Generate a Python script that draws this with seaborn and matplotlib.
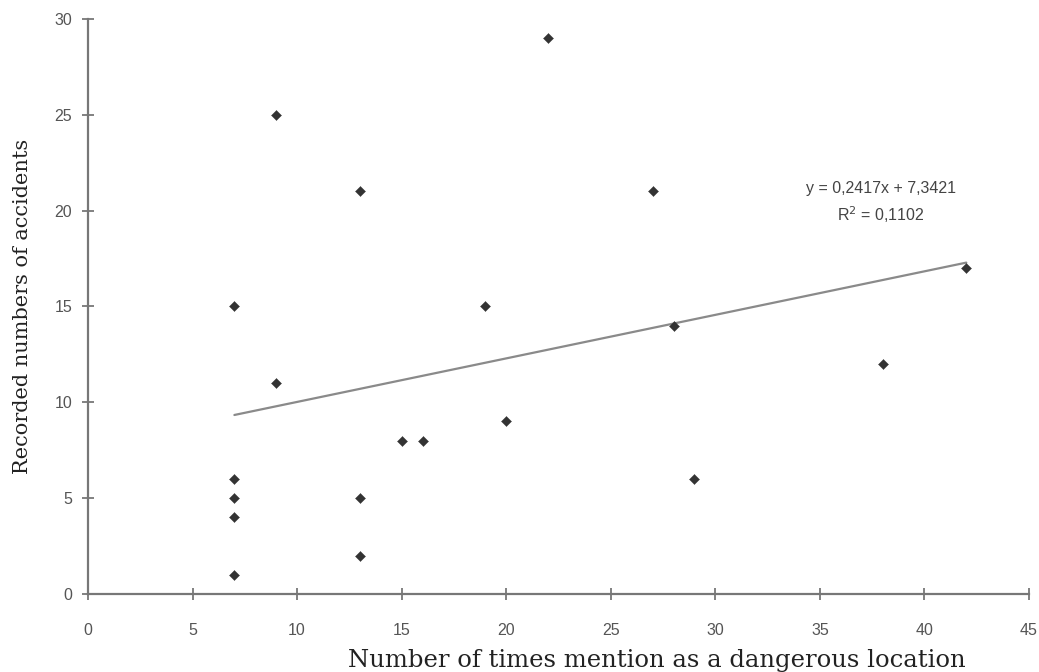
import matplotlib
matplotlib.use("Agg")
import matplotlib.pyplot as plt
import seaborn as sns
import pandas as pd

mentions = [7, 7, 7, 7, 7, 9, 9, 13, 13, 13, 15, 16, 19, 20, 22, 27, 28, 29, 38, 42]
accidents = [15, 6, 5, 4, 1, 25, 11, 21, 5, 2, 8, 8, 15, 9, 29, 21, 14, 6, 12, 17]
x_ticks = [0, 5, 10, 15, 20, 25, 30, 35, 40, 45]
y_ticks = [0, 5, 10, 15, 20, 25, 30]
equation_text = "y = 0,2417x + 7,3421\nR$^2$ = 0,1102"

df = pd.DataFrame({"x": mentions, "y": accidents})

sns.set_style("white")
plt.rcParams['font.family'] = ['Liberation Sans', 'DejaVu Sans']

fig = plt.figure(figsize=(10.39, 6.72), dpi=100)
ax = fig.add_axes([0.0847, 0.116, 0.9057, 0.856])

sns.regplot(data=df, x="x", y="y", scatter=False, ci=None, truncate=True,
            line_kws={"color": "#8a8a8a", "lw": 1.6}, ax=ax)
sns.scatterplot(data=df, x="x", y="y", marker="D", s=26, color="#333333",
                edgecolor="#333333", linewidth=0.3, ax=ax, zorder=3)

ax.set_xlim(0, 45)
ax.set_ylim(0, 30)
ax.set_xticks(x_ticks)
ax.set_yticks(y_ticks)
ax.tick_params(axis="both", bottom=True, left=True, direction="inout",
               length=9, width=1.3, color="#777777", labelcolor="#555555",
               labelsize=11.5)
ax.tick_params(axis="x", pad=16)
ax.tick_params(axis="y", pad=7)
for s in ["top", "right"]:
    ax.spines[s].set_visible(False)
for s in ["left", "bottom"]:
    ax.spines[s].set_color("#777777")
    ax.spines[s].set_linewidth(1.6)

ax.set_xlabel("Number of times mention as a dangerous location",
              family="DejaVu Serif", fontsize=17.5, color="#222222")
ax.xaxis.set_label_coords(0.604, -0.095)
ax.set_ylabel("Recorded numbers of accidents",
              family="DejaVu Serif", fontsize=15, color="#222222", labelpad=16)

ax.text(37.9, 20.4, equation_text, ha="center", va="center", fontsize=11.5,
        color="#444444", linespacing=1.5)

fig.savefig("out.png", dpi=100)
